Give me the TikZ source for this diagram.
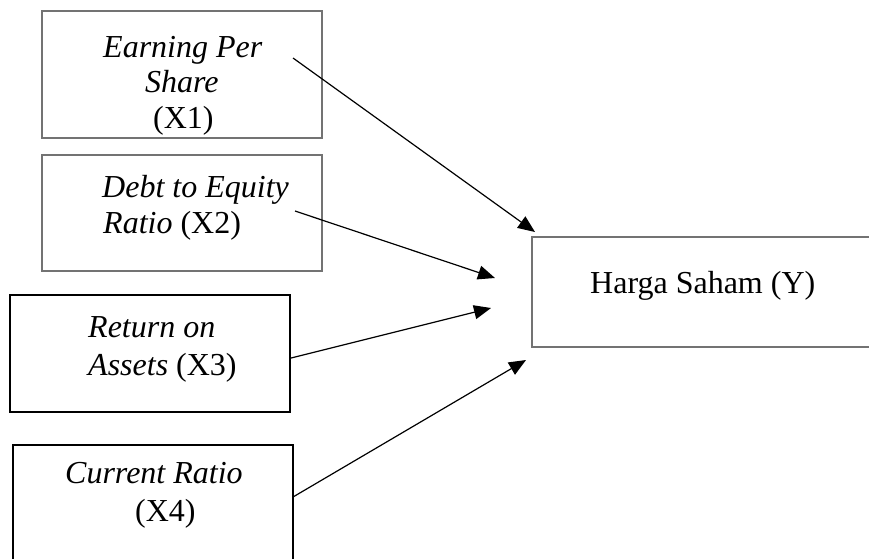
\documentclass[tikz,border=0pt]{standalone}
\usepackage{fontspec}
\setmainfont{Liberation Serif}
\usetikzlibrary{arrows.meta}
\begin{document}
\begin{tikzpicture}[x=1pt,y=-1pt,
  greybox/.style={draw=black!55,line width=2pt,rectangle,inner sep=0pt},
  blackbox/.style={draw=black,line width=2.4pt,rectangle,inner sep=0pt},
  lbl/.style={inner sep=0pt,anchor=base west,font=\fontsize{32}{36}\selectfont},
  conn/.style={line width=1.2pt,-{Triangle[length=17pt,width=14pt]}}]
\useasboundingbox (0,0) rectangle (869,558);
\clip (0,0) rectangle (869,558);
% boxes
\node[greybox,minimum width=280pt,minimum height=127pt] (b1) at (182,74.5) {};
\node[greybox,minimum width=280pt,minimum height=116pt] (b2) at (182,213) {};
\node[blackbox,minimum width=280pt,minimum height=117pt] (b3) at (150,353.5) {};
\node[blackbox,minimum width=280pt,minimum height=130pt] (b4) at (153,510) {};
\node[greybox,minimum width=350pt,minimum height=110pt] (by) at (707,292) {};
% texts
\node[lbl] (t1a) at (103,57) {\itshape Earning Per};
\node[lbl] (t1b) at (145,92) {\itshape Share};
\node[lbl] (t1c) at (153,128) {(X1)};
\node[lbl] (t2a) at (102,197) {\itshape Debt to Equity};
\node[lbl] (t2b) at (103,233) {\textit{Ratio} (X2)};
\node[lbl] (t3a) at (88,337) {\itshape Return on};
\node[lbl] (t3b) at (88,375) {\textit{Assets} (X3)};
\node[lbl] (t4a) at (65,483) {\itshape Current Ratio};
\node[lbl] (t4b) at (135,521) {(X4)};
\node[lbl] (ty) at (590,293) {Harga Saham (Y)};
% connector endpoints
\coordinate (s1) at (293,58);
\coordinate (e1) at (535,232);
\coordinate (s2) at (295,211);
\coordinate (e2) at (495,278);
\coordinate (s3) at (291,358);
\coordinate (e3) at (491,308);
\coordinate (s4) at (293,497);
\coordinate (e4) at (526,360);
\draw[conn] (s1) -- (e1);
\draw[conn] (s2) -- (e2);
\draw[conn] (s3) -- (e3);
\draw[conn] (s4) -- (e4);
\end{tikzpicture}
\end{document}
